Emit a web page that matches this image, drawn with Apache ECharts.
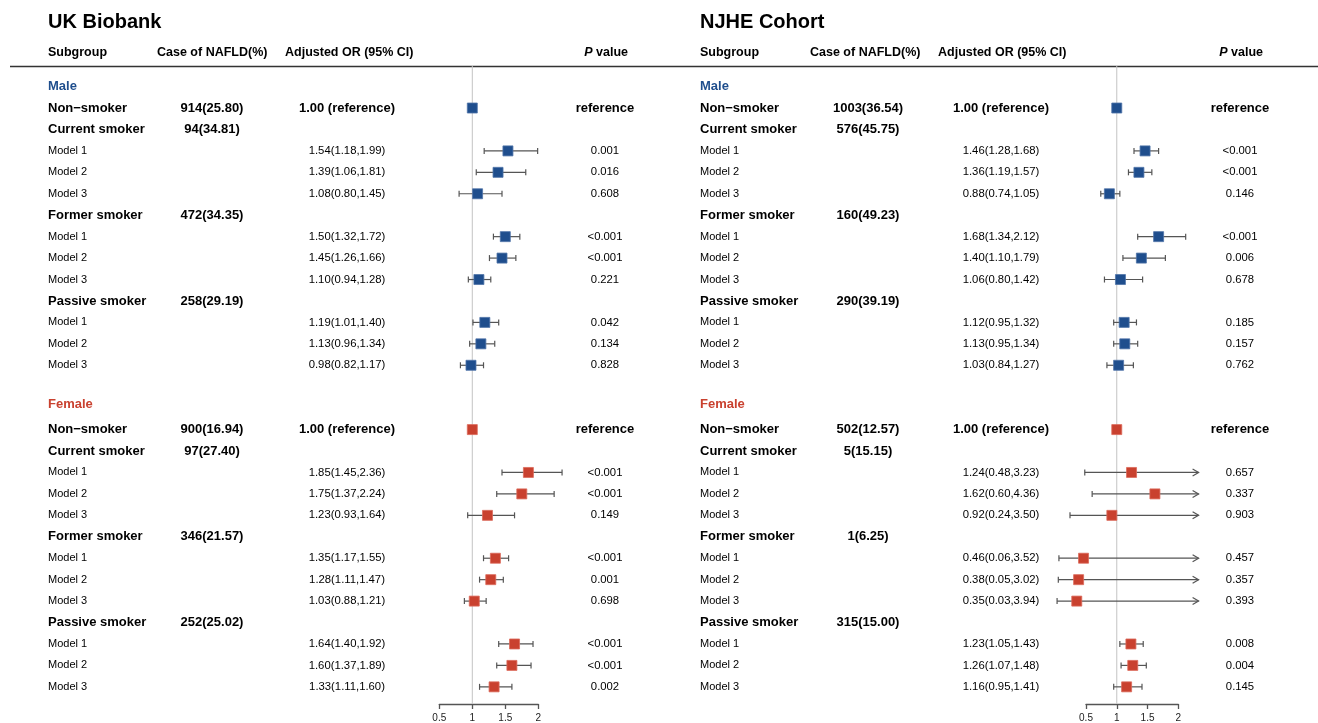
<!DOCTYPE html>
<html><head><meta charset="utf-8">
<script src="https://cdn.jsdelivr.net/npm/echarts@6/dist/echarts.min.js"></script>
<style>html,body{margin:0;padding:0;background:#fff}#c{width:1318px;height:723px}</style>
</head><body><div id="c"></div>
<script>
// ---------- data ----------
const panelTitles = ['UK Biobank', 'NJHE Cohort'];
const groups = ['Male', 'Female'];
const subgroups = ['Non−smoker', 'Current smoker', 'Former smoker', 'Passive smoker'];
const models = ['Model 1', 'Model 2', 'Model 3'];
const xTicks = [0.5, 1, 1.5, 2];
const refValue = 1;

// UK Biobank
const ukMaleCases = ['914(25.80)', '94(34.81)', '472(34.35)', '258(29.19)'];
const ukFemaleCases = ['900(16.94)', '97(27.40)', '346(21.57)', '252(25.02)'];
const ukMaleOR = [1.54, 1.39, 1.08, 1.50, 1.45, 1.10, 1.19, 1.13, 0.98];
const ukMaleLo = [1.18, 1.06, 0.80, 1.32, 1.26, 0.94, 1.01, 0.96, 0.82];
const ukMaleHi = [1.99, 1.81, 1.45, 1.72, 1.66, 1.28, 1.40, 1.34, 1.17];
const ukMaleP = ['0.001', '0.016', '0.608', '<0.001', '<0.001', '0.221', '0.042', '0.134', '0.828'];
const ukFemaleOR = [1.85, 1.75, 1.23, 1.35, 1.28, 1.03, 1.64, 1.60, 1.33];
const ukFemaleLo = [1.45, 1.37, 0.93, 1.17, 1.11, 0.88, 1.40, 1.37, 1.11];
const ukFemaleHi = [2.36, 2.24, 1.64, 1.55, 1.47, 1.21, 1.92, 1.89, 1.60];
const ukFemaleP = ['<0.001', '<0.001', '0.149', '<0.001', '0.001', '0.698', '<0.001', '<0.001', '0.002'];

// NJHE Cohort
const njMaleCases = ['1003(36.54)', '576(45.75)', '160(49.23)', '290(39.19)'];
const njFemaleCases = ['502(12.57)', '5(15.15)', '1(6.25)', '315(15.00)'];
const njMaleOR = [1.46, 1.36, 0.88, 1.68, 1.40, 1.06, 1.12, 1.13, 1.03];
const njMaleLo = [1.28, 1.19, 0.74, 1.34, 1.10, 0.80, 0.95, 0.95, 0.84];
const njMaleHi = [1.68, 1.57, 1.05, 2.12, 1.79, 1.42, 1.32, 1.34, 1.27];
const njMaleP = ['<0.001', '<0.001', '0.146', '<0.001', '0.006', '0.678', '0.185', '0.157', '0.762'];
const njFemaleOR = [1.24, 1.62, 0.92, 0.46, 0.38, 0.35, 1.23, 1.26, 1.16];
const njFemaleLo = [0.48, 0.60, 0.24, 0.06, 0.05, 0.03, 1.05, 1.07, 0.95];
const njFemaleHi = [3.23, 4.36, 3.50, 3.52, 3.02, 3.94, 1.43, 1.48, 1.41];
const njFemaleP = ['0.657', '0.337', '0.903', '0.457', '0.357', '0.393', '0.008', '0.004', '0.145'];

// ---------- styles / layout ----------
const FONT = '"Liberation Sans", Arial, Helvetica, sans-serif';
const COLORS = ['#1f4e8d', '#c9412f'];
const BORDERS = ['#4f73a8', '#dc6a5a'];
const CI = '#555555';
const Y_MIN = -0.96, Y_MAX = 28.8;
const layouts = [
  { labelX: 48, caseX: 212, orX: 347, pX: 605, gridLeft: 439.3, gridWidth: 99, clipMax: Infinity,
    hdr: { sub: 48, cas: 157, or: 285, pRight: 628 } },
  { labelX: 700, caseX: 868, orX: 1001, pX: 1240, gridLeft: 1086, gridWidth: 92.3, clipMax: 2.33,
    hdr: { sub: 700, cas: 810, or: 938, pRight: 1263 } }
];

function buildRows(sets) {
  const rows = [];
  let r = 0;
  sets.forEach((s, g) => {
    rows.push({ row: r++, kind: 'group', label: groups[g], g });
    subgroups.forEach((sg, si) => {
      if (si === 0) {
        rows.push({ row: r++, kind: 'sub', label: sg, cas: s.cases[si], orText: '1.00 (reference)', pText: 'reference',
          est: 1, lo: 1, hi: 1, g });
      } else {
        rows.push({ row: r++, kind: 'sub', label: sg, cas: s.cases[si], g });
        models.forEach((m, mi) => {
          const k = (si - 1) * 3 + mi;
          rows.push({ row: r++, kind: 'model', label: m,
            orText: s.or[k].toFixed(2) + '(' + s.lo[k].toFixed(2) + ',' + s.hi[k].toFixed(2) + ')',
            pText: s.p[k], est: s.or[k], lo: s.lo[k], hi: s.hi[k], g });
        });
      }
    });
    r++; // blank spacer row
  });
  return rows;
}

const panels = [
  buildRows([
    { cases: ukMaleCases, or: ukMaleOR, lo: ukMaleLo, hi: ukMaleHi, p: ukMaleP },
    { cases: ukFemaleCases, or: ukFemaleOR, lo: ukFemaleLo, hi: ukFemaleHi, p: ukFemaleP }
  ]),
  buildRows([
    { cases: njMaleCases, or: njMaleOR, lo: njMaleLo, hi: njMaleHi, p: njMaleP },
    { cases: njFemaleCases, or: njFemaleOR, lo: njFemaleLo, hi: njFemaleHi, p: njFemaleP }
  ])
];

function textItems(rows) {
  const items = [];
  rows.forEach(r => {
    if (r.kind === 'group') {
      items.push({ row: r.row, dy: r.g === 1 ? -4 : 0, col: 'label', text: r.label, font: 'bold 13px ' + FONT, fill: COLORS[r.g], align: 'left' });
    } else if (r.kind === 'sub') {
      items.push({ row: r.row, col: 'label', text: r.label, font: 'bold 13px ' + FONT, fill: '#000', align: 'left' });
      items.push({ row: r.row, col: 'case', text: r.cas, font: 'bold 13px ' + FONT, fill: '#000', align: 'center' });
      if (r.orText) items.push({ row: r.row, col: 'or', text: r.orText, font: 'bold 13px ' + FONT, fill: '#000', align: 'center' });
      if (r.pText) items.push({ row: r.row, col: 'p', text: r.pText, font: 'bold 13px ' + FONT, fill: '#000', align: 'center' });
    } else {
      items.push({ row: r.row, col: 'label', text: r.label, font: '11px ' + FONT, fill: '#000', align: 'left' });
      items.push({ row: r.row, col: 'or', text: r.orText, font: '11.3px ' + FONT, fill: '#000', align: 'center' });
      items.push({ row: r.row, col: 'p', text: r.pText, font: '11.3px ' + FONT, fill: '#000', align: 'center' });
    }
  });
  return items;
}

const series = [];
const grids = [], xAxes = [], yAxes = [];
panels.forEach((rows, pi) => {
  const L = layouts[pi];
  grids.push({ left: L.gridLeft, width: L.gridWidth, top: 66, bottom: 19 });
  xAxes.push({ type: 'value', gridIndex: pi, position: 'bottom', min: xTicks[0], max: xTicks[xTicks.length - 1], interval: 0.5,
    splitLine: { show: false },
    axisLine: { show: true, onZero: false, lineStyle: { color: '#555', width: 1.3 } },
    axisTick: { show: true, inside: false, length: 5, lineStyle: { color: '#555', width: 1.3 } },
    axisLabel: { fontSize: 10, color: '#222', margin: 9, fontFamily: FONT,
      formatter: v => String(v) } });
  yAxes.push({ type: 'value', gridIndex: pi, inverse: true, min: Y_MIN, max: Y_MAX, show: false });

  // vertical reference line at OR = 1
  series.push({
    type: 'custom', xAxisIndex: pi, yAxisIndex: pi, clip: false, silent: true, z: 1,
    data: [[refValue, Y_MIN, Y_MAX]],
    encode: { x: 0, y: [1, 2] },
    renderItem: (params, api) => {
      const a = api.coord([api.value(0), api.value(1)]);
      const b = api.coord([api.value(0), api.value(2)]);
      return { type: 'line', shape: { x1: a[0], y1: a[1], x2: b[0], y2: b[1] }, style: { stroke: '#c4c4c4', lineWidth: 1 } };
    }
  });

  const items = textItems(rows);
  const colX = { label: L.labelX, case: L.caseX, or: L.orX, p: L.pX };
  series.push({
    type: 'custom', xAxisIndex: pi, yAxisIndex: pi, clip: false, silent: true, z: 2,
    data: items.map((it, i) => [1, it.row, i]),
    encode: { x: 0, y: 1 },
    renderItem: (params, api) => {
      const it = items[params.dataIndex];
      const y = api.coord([1, api.value(1)])[1] + (it.dy || 0);
      return { type: 'text', style: { text: it.text, x: colX[it.col], y: y, font: it.font, fill: it.fill,
        align: it.align, verticalAlign: 'middle' } };
    }
  });

  const fr = rows.filter(r => r.est !== undefined);
  const clipMax = L.clipMax;
  series.push({
    type: 'custom', xAxisIndex: pi, yAxisIndex: pi, clip: false, silent: true, z: 3,
    data: fr.map(r => [r.est, r.lo, r.hi, r.row, r.g]),
    encode: { x: [0, 1, 2], y: 3 },
    renderItem: (params, api) => {
      const est = api.value(0), lo = api.value(1), hi = api.value(2), row = api.value(3), g = api.value(4);
      const pe = api.coord([est, row]);
      const y = pe[1];
      const ls = { stroke: CI, lineWidth: 1.2 };
      const ch = [];
      if (hi > lo) {
        const xl = api.coord([lo, row])[0];
        const clipped = hi > clipMax;
        const xh = api.coord([clipped ? clipMax : hi, row])[0];
        ch.push({ type: 'line', shape: { x1: xl, y1: y, x2: xh, y2: y }, style: ls });
        ch.push({ type: 'line', shape: { x1: xl, y1: y - 3, x2: xl, y2: y + 3 }, style: ls });
        if (clipped) {
          ch.push({ type: 'polyline', shape: { points: [[xh - 6, y - 3.5], [xh, y], [xh - 6, y + 3.5]] },
            style: { stroke: CI, lineWidth: 1.2, fill: null } });
        } else {
          ch.push({ type: 'line', shape: { x1: xh, y1: y - 3, x2: xh, y2: y + 3 }, style: ls });
        }
      }
      const sz = 10;
      ch.push({ type: 'rect', shape: { x: pe[0] - sz / 2, y: y - sz / 2, width: sz, height: sz },
        style: { fill: COLORS[g], stroke: BORDERS[g], lineWidth: 0.8 } });
      return { type: 'group', children: ch };
    }
  });
});

const graphic = [
  { type: 'line', shape: { x1: 10, y1: 66.5, x2: 1318, y2: 66.5 }, style: { stroke: '#333', lineWidth: 1.5 }, silent: true }
];
layouts.forEach((L, pi) => {
  graphic.push({ type: 'text', style: { text: panelTitles[pi], x: L.hdr.sub, y: 22, font: 'bold 20px ' + FONT, fill: '#000', verticalAlign: 'middle' } });
  graphic.push({ type: 'text', style: { text: 'Subgroup', x: L.hdr.sub, y: 53, font: 'bold 12.5px ' + FONT, fill: '#000', verticalAlign: 'middle' } });
  graphic.push({ type: 'text', style: { text: 'Case of NAFLD(%)', x: L.hdr.cas, y: 53, font: 'bold 12.5px ' + FONT, fill: '#000', verticalAlign: 'middle' } });
  graphic.push({ type: 'text', style: { text: 'Adjusted OR (95% CI)', x: L.hdr.or, y: 53, font: 'bold 12.5px ' + FONT, fill: '#000', verticalAlign: 'middle' } });
  graphic.push({ type: 'text', style: { text: '{i|P} value', x: L.hdr.pRight, y: 53, align: 'right', verticalAlign: 'middle',
    font: 'bold 12.5px ' + FONT, fill: '#000',
    rich: { i: { fontStyle: 'italic', fontWeight: 'bold', fontSize: 12.5, fontFamily: FONT, fill: '#000' } } } });
});

const chart = echarts.init(document.getElementById('c'), null, { renderer: 'canvas' });
chart.setOption({
  backgroundColor: '#fff',
  animation: false,
  grid: grids, xAxis: xAxes, yAxis: yAxes,
  series: series,
  graphic: graphic
});
</script>
</body></html>
